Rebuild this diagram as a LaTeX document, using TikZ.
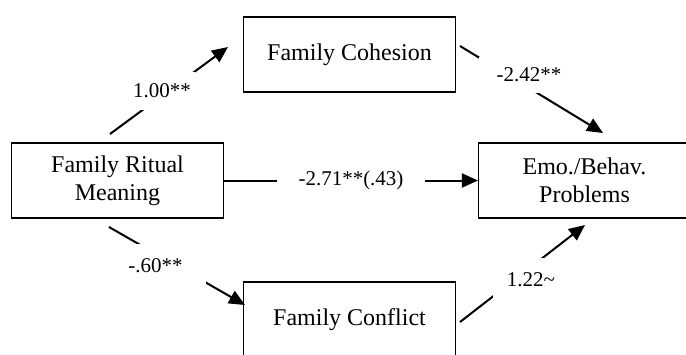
\documentclass[tikz,border=0pt]{standalone}
\usepackage{fontspec}
\setmainfont{Liberation Serif}
\usetikzlibrary{arrows.meta}
\tikzset{
	box/.style={draw, line width=1.2pt, minimum width=212pt, minimum height=75pt, align=center, font=\fontsize{24}{28}\selectfont},
	effect/.style={line width=2pt, -{Triangle[length=16pt,width=14pt]}},
	coef/.style={fill=white, inner sep=0pt, font=\fontsize{21}{24}\selectfont}
}

\begin{document}
\begin{tikzpicture}[x=1pt, y=-1pt]
			%%%%% START %%%%%
			\useasboundingbox (0, 0) rectangle (686, 354);
			\clip (0, 0) rectangle (686, 354);
			
			\node[box] (ritual) at (117.5, 180.5) {Family Ritual\\Meaning};
			\node[box] (cohesion) at (349.5, 54.5) {Family Cohesion};
			\node[box] (conflict) at (349.5, 319.5) {Family Conflict};
			\node[box] (problems) at (584.5, 180.5) {Emo./Behav.\\Problems};
			
			% free ends of the paths
			\coordinate (a1s) at (110, 134);
			\coordinate (a1e) at (228, 47);
			\coordinate (a2s) at (460, 46);
			\coordinate (a2e) at (603, 133);
			\coordinate (a4s) at (109, 227);
			\coordinate (a4e) at (245, 305);
			\coordinate (a5s) at (460, 322);
			\coordinate (a5e) at (585, 225);
			
			\draw[effect] (a1s) -- (a1e);
			\draw[effect] (a2s) -- (a2e);
			\draw[effect] (ritual.east) -- (problems.west);
			\draw[effect] (a4s) -- (a4e);
			\draw[effect] (a5s) -- (a5e);
			
			% coefficients sit on white over the paths
			\node[coef, minimum width=66pt, minimum height=38pt] (c1) at (162, 91) {1.00**};
			\node[coef, minimum width=100pt, minimum height=36pt] (c2) at (529, 75) {-2.42**};
			\node[coef, minimum width=148pt, minimum height=24pt] (c3) at (351, 180.5) {-2.71**(.43)};
			\node[coef, minimum width=101pt, minimum height=44pt] (c4) at (155.5, 266) {-.60**};
			\node[coef, minimum width=76pt, minimum height=44pt] (c5) at (531, 280) {1.22\textasciitilde};
			
			%%%%% END %%%%%
\end{tikzpicture}
\end{document}
